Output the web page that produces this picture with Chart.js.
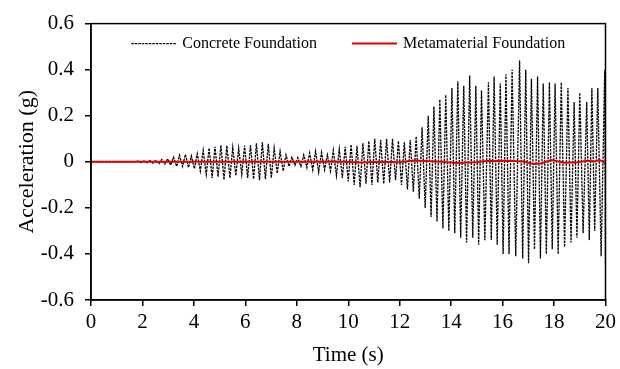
<!DOCTYPE html>
<html>
<head>
<meta charset="utf-8">
<script src="https://cdn.jsdelivr.net/npm/chart.js@4.4.1/dist/chart.umd.min.js"></script>
<style>
  body { margin: 0; background: #fff; }
</style>
</head>
<body>
<canvas id="chart" width="620" height="369"></canvas>
<script>
// values (time in s, acceleration in g)
var seriesNames = ['Concrete Foundation', 'Metamaterial Foundation'];
var xTicks = [0, 2, 4, 6, 8, 10, 12, 14, 16, 18, 20];
var yTicks = [-0.6, -0.4, -0.2, 0, 0.2, 0.4, 0.6];

var leadTime = [0, 1.7];
var leadAccel = [0, 0];

var peakTime = [1.83, 2.06, 2.29, 2.52, 2.75, 2.98, 3.21, 3.44, 3.67, 3.90,
  4.13, 4.36, 4.59, 4.82, 5.05, 5.28, 5.51, 5.74, 5.97, 6.20,
  6.43, 6.66, 6.89, 7.12, 7.35, 7.58, 7.81, 8.04, 8.27, 8.50,
  8.73, 8.96, 9.19, 9.42, 9.65, 9.88, 10.11, 10.34, 10.57, 10.80,
  11.03, 11.26, 11.49, 11.72, 11.95, 12.18, 12.41, 12.64, 12.87,
  13.11, 13.33, 13.56, 13.79,
  14.03, 14.26, 14.49, 14.72, 14.96, 15.18, 15.45, 15.67, 15.91, 16.13,
  16.37, 16.66, 16.90, 17.12, 17.36, 17.58, 17.82, 18.04, 18.28, 18.54,
  18.78, 19.00, 19.27, 19.47, 19.70, 19.97];
var peakAccel = [0.003, 0.004, 0.005, 0.007, 0.01, 0.013, 0.02, 0.028, 0.032, 0.025,
  0.035, 0.05, 0.06, 0.065, 0.072, 0.07, 0.062, 0.058, 0.07, 0.073,
  0.08, 0.085, 0.078, 0.06, 0.045, 0.03, 0.02, 0.018, 0.03, 0.038,
  0.045, 0.04, 0.03, 0.05, 0.055, 0.065, 0.075, 0.07, 0.08, 0.09,
  0.1, 0.095, 0.1, 0.1, 0.09, 0.085, 0.095, 0.11, 0.15,
  0.20, 0.24, 0.27, 0.29,
  0.32, 0.35, 0.33, 0.375, 0.33, 0.31, 0.345, 0.37, 0.34, 0.38,
  0.40, 0.44, 0.40, 0.36, 0.37, 0.34, 0.345, 0.34, 0.345, 0.32,
  0.26, 0.30, 0.26, 0.32, 0.32, 0.40];

var troughTime = [1.95, 2.18, 2.41, 2.64, 2.87, 3.10, 3.33, 3.56, 3.79, 4.02,
  4.25, 4.48, 4.71, 4.94, 5.17, 5.40, 5.63, 5.86, 6.09, 6.32,
  6.55, 6.78, 7.01, 7.24, 7.47, 7.70, 7.93, 8.16, 8.39, 8.62,
  8.85, 9.08, 9.31, 9.54, 9.77, 10.00, 10.23, 10.46, 10.69, 10.92,
  11.15, 11.38, 11.61, 11.84, 12.07, 12.30, 12.53, 12.76, 12.99,
  13.22, 13.45, 13.68, 13.91,
  14.14, 14.37, 14.60, 14.84, 15.07, 15.31, 15.56, 15.79, 16.02, 16.25,
  16.51, 16.78, 17.01, 17.24, 17.47, 17.70, 17.93, 18.16, 18.41, 18.66,
  18.89, 19.13, 19.37, 19.58, 19.83, 20.0];
var troughAccel = [-0.003, -0.004, -0.006, -0.008, -0.01, -0.014, -0.02, -0.02, -0.025, -0.03,
  -0.04, -0.055, -0.07, -0.065, -0.078, -0.07, -0.06, -0.055, -0.07, -0.075,
  -0.08, -0.075, -0.07, -0.05, -0.04, -0.02, -0.015, -0.02, -0.025, -0.035,
  -0.045, -0.035, -0.04, -0.06, -0.07, -0.085, -0.1, -0.11, -0.095, -0.1,
  -0.09, -0.095, -0.09, -0.08, -0.1, -0.12, -0.13, -0.16, -0.2,
  -0.24, -0.26, -0.29, -0.30,
  -0.31, -0.33, -0.35, -0.33, -0.36, -0.34, -0.34, -0.36, -0.40, -0.40,
  -0.41, -0.42, -0.44, -0.38, -0.42, -0.40, -0.38, -0.40, -0.37, -0.35,
  -0.33, -0.31, -0.34, -0.30, -0.41, -0.44];

var metaTime = [0, 8, 9.5, 10.5, 11.3, 12, 12.5, 13, 13.6, 14.2, 15, 15.4, 16.2, 16.8,
  17.2, 17.5, 17.9, 18.4, 18.9, 19.3, 19.6, 19.75, 20];
var metaAccel = [0, 0, 0.001, -0.003, 0, -0.002, 0.006, 0.003, 0, -0.005, -0.002, 0.004, 0.005, 0.001,
  -0.009, -0.006, 0.008, -0.004, -0.002, 0.004, 0.001, 0.008, -0.005];

function zip(t, v) {
  var out = [];
  for (var i = 0; i < t.length; i++) out.push({x: t[i], y: v[i]});
  return out;
}

var concretePts = zip(leadTime, leadAccel)
  .concat(zip(peakTime, peakAccel))
  .concat(zip(troughTime, troughAccel))
  .sort(function(a, b) { return a.x - b.x; });

var serif = 'Liberation Serif, Times New Roman, serif';

// full frame round the plot area
var frame = {
  id: 'frame',
  afterDatasetsDraw: function(chart) {
    var a = chart.chartArea, ctx = chart.ctx;
    ctx.save();
    ctx.strokeStyle = '#000';
    ctx.lineWidth = 1.5;
    ctx.strokeRect(a.left, a.top, a.right - a.left, a.bottom - a.top);
    ctx.restore();
  }
};

// legend row inside the top of the plot, built from the datasets
var insideLegend = {
  id: 'insideLegend',
  afterDraw: function(chart) {
    var a = chart.chartArea, ctx = chart.ctx;
    var sample = 45, gapText = 6, gapItem = 35, y = a.top + 20;
    ctx.save();
    ctx.font = '16px ' + serif;
    ctx.textBaseline = 'middle';
    var sets = chart.data.datasets;
    var total = 0;
    sets.forEach(function(ds, i) {
      total += sample + gapText + ctx.measureText(ds.label).width + (i ? gapItem : 0);
    });
    var x = (a.left + a.right) / 2 - total / 2;
    sets.forEach(function(ds, i) {
      if (i) x += gapItem;
      ctx.strokeStyle = ds.borderColor;
      ctx.lineWidth = ds.borderWidth;
      ctx.setLineDash(ds.borderDash || []);
      ctx.beginPath();
      ctx.moveTo(x, y);
      ctx.lineTo(x + sample, y);
      ctx.stroke();
      x += sample + gapText;
      ctx.fillStyle = '#000';
      ctx.fillText(ds.label, x, y);
      x += ctx.measureText(ds.label).width;
    });
    ctx.restore();
  }
};

new Chart(document.getElementById('chart'), {
  type: 'line',
  data: {
    datasets: [{
      label: seriesNames[0],
      data: concretePts,
      borderColor: '#000',
      borderWidth: 1.3,
      borderDash: [2.5, 1],
      pointRadius: 0,
      order: 1
    }, {
      label: seriesNames[1],
      data: zip(metaTime, metaAccel),
      borderColor: '#e00000',
      borderWidth: 2,
      pointRadius: 0,
      order: 0
    }]
  },
  options: {
    responsive: false,
    animation: false,
    layout: { padding: { top: 18, right: -4, left: 0, bottom: 0 } },
    plugins: {
      tooltip: { enabled: false },
      legend: { display: false }
    },
    scales: {
      x: {
        type: 'linear',
        min: 0, max: 20,
        afterBuildTicks: function(s) { s.ticks = xTicks.map(function(v) { return {value: v}; }); },
        afterFit: function(s) { s.height = 69; },
        grid: { drawOnChartArea: false, drawTicks: true, tickLength: 6, color: '#000', lineWidth: 1.5 },
        border: { color: '#000', width: 1.5 },
        ticks: { color: '#000', padding: 4, maxRotation: 0, font: { family: serif, size: 21 } },
        title: { display: true, text: 'Time (s)', color: '#000', padding: { top: 0, bottom: 1 }, font: { family: serif, size: 21 } }
      },
      y: {
        min: -0.6, max: 0.6,
        afterBuildTicks: function(s) { s.ticks = yTicks.map(function(v) { return {value: v}; }); },
        afterFit: function(s) { s.width = 91; },
        grid: { drawOnChartArea: false, drawTicks: true, tickLength: 6, color: '#000', lineWidth: 1.5 },
        border: { color: '#000', width: 1.5 },
        ticks: {
          color: '#000', padding: 11, font: { family: serif, size: 21 },
          callback: function(v) { return v === 0 ? '0' : v.toFixed(1); }
        },
        title: { display: true, text: 'Acceleration (g)', color: '#000', padding: { top: 14, bottom: 0 }, font: { family: serif, size: 22 } }
      }
    }
  },
  plugins: [frame, insideLegend]
});
</script>
</body>
</html>
